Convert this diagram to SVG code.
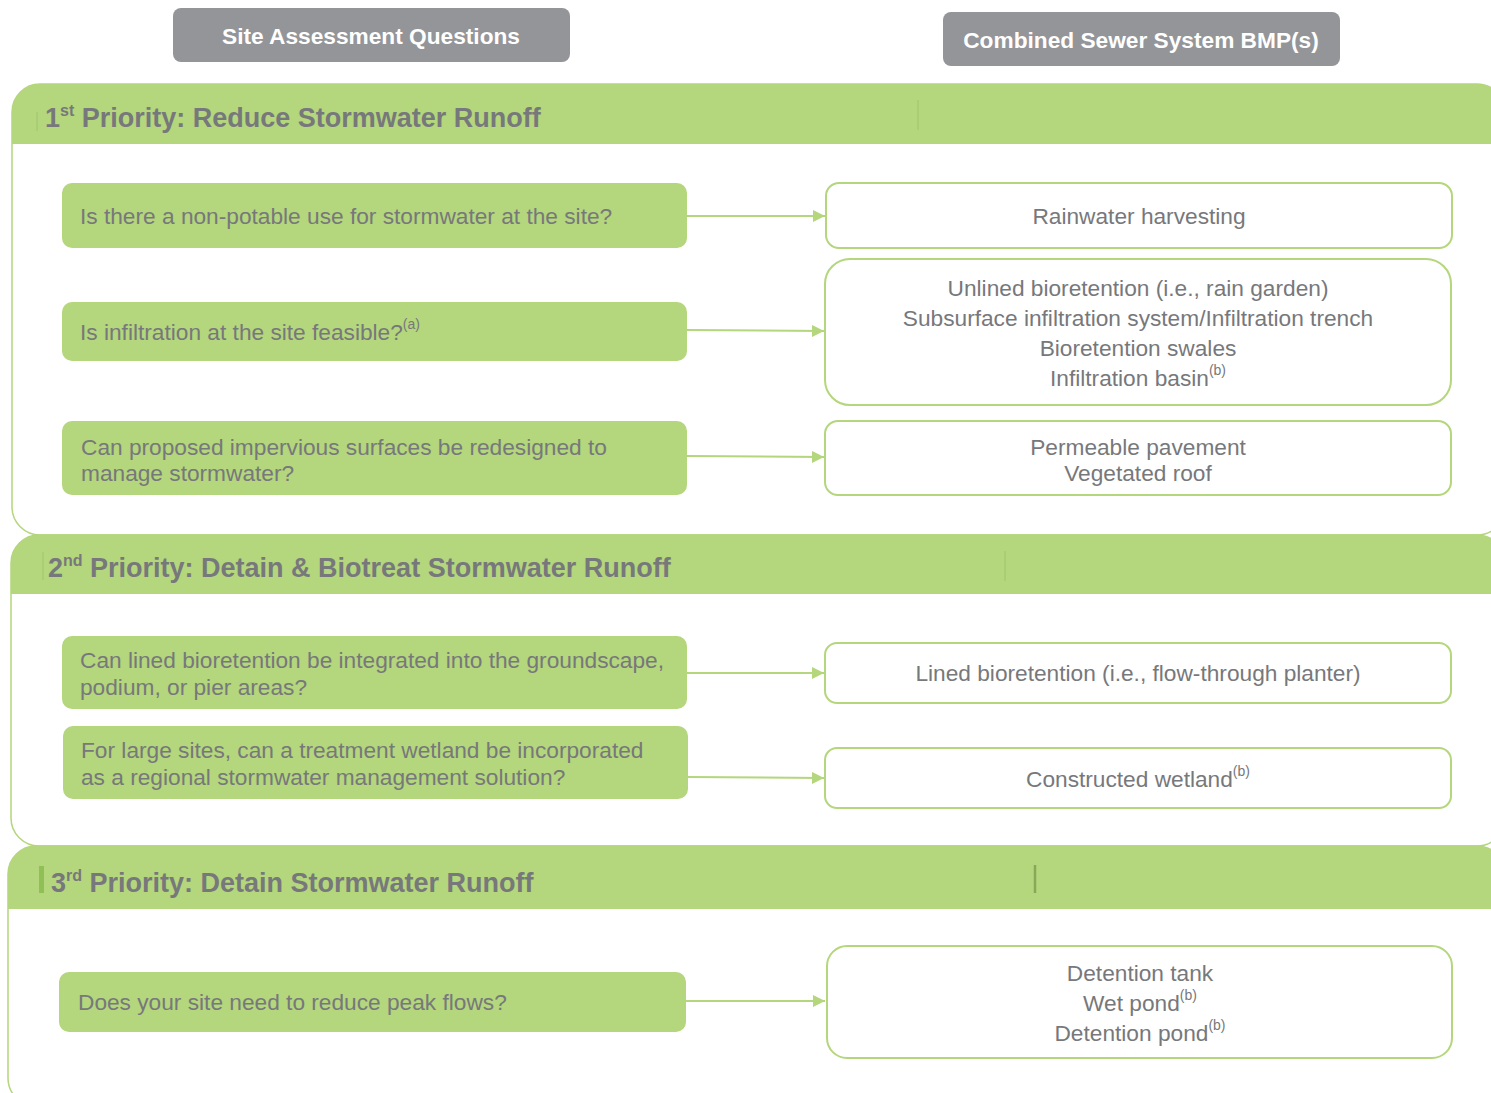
<svg xmlns="http://www.w3.org/2000/svg" width="1491" height="1093" viewBox="0 0 1491 1093">
<style>
.hdr{fill:#939598;}
.hdrt{font-family:"Liberation Sans",Arial,sans-serif;font-weight:bold;font-size:22.7px;fill:#ffffff;text-anchor:middle;}
.panel{fill:#ffffff;stroke:#B4D67C;stroke-width:1.5;}
.band{fill:#B4D67C;}
.title{font-family:"Liberation Sans",Arial,sans-serif;font-weight:bold;font-size:27px;fill:#77787B;}
.q{fill:#B4D67C;}
.qt{font-family:"Liberation Sans",Arial,sans-serif;font-size:22.7px;fill:#77787B;}
.a{fill:#ffffff;stroke:#B4D67C;stroke-width:2;}
.at{font-family:"Liberation Sans",Arial,sans-serif;font-size:22.7px;fill:#77787B;text-anchor:middle;}
.sep{stroke:#9CC264;stroke-width:0.8;}
.conn{stroke:#B4D67C;stroke-width:2;fill:none;marker-end:url(#ah);}
</style>
<defs>
<marker id="ah" markerWidth="12" markerHeight="12" refX="12" refY="6" orient="auto" markerUnits="userSpaceOnUse">
<path d="M0,0 L12,6 L0,12 Z" fill="#B4D67C"/>
</marker>
</defs>
<rect width="1491" height="1093" fill="#ffffff"/>

<g id="header-left">
<rect class="hdr" x="173" y="8" width="397" height="54" rx="8"/>
<text class="hdrt" x="371" y="44">Site Assessment Questions</text>
</g>
<g id="header-right">
<rect class="hdr" x="943" y="12" width="397" height="54" rx="8"/>
<text class="hdrt" x="1141" y="48">Combined Sewer System BMP(s)</text>
</g>

<g id="section1">
<rect class="panel" x="12" y="84" width="1493" height="451" rx="28"/>
<path class="band" d="M12,144 V112 A28,28 0 0 1 40,84 H1477 A28,28 0 0 1 1505,112 V144 Z"/>
<line class="sep" x1="37" y1="112" x2="37" y2="131"/>
<line class="sep" x1="918" y1="100" x2="918" y2="130"/>
<text class="title" x="45" y="127">1<tspan font-size="16" dy="-11">st</tspan><tspan dy="11"> Priority: Reduce Stormwater Runoff</tspan></text>
</g>

<g id="section2">
<rect class="panel" x="11" y="535" width="1494" height="311" rx="28"/>
<path class="band" d="M11,594 V563 A28,28 0 0 1 39,535 H1477 A28,28 0 0 1 1505,563 V594 Z"/>
<line class="sep" x1="43" y1="552" x2="43" y2="580"/>
<line class="sep" x1="1005" y1="551" x2="1005" y2="581"/>
<text class="title" x="48" y="577">2<tspan font-size="16" dy="-11">nd</tspan><tspan dy="11"> Priority: Detain &amp; Biotreat Stormwater Runoff</tspan></text>
</g>

<g id="section3">
<rect class="panel" x="8" y="846" width="1497" height="260" rx="28"/>
<path class="band" d="M8,909 V874 A28,28 0 0 1 36,846 H1477 A28,28 0 0 1 1505,874 V909 Z"/>
<rect x="39" y="866" width="5" height="27" fill="#8FBF55"/>
<line x1="1035" y1="865" x2="1035" y2="893" stroke="#86A858" stroke-width="2.5"/>
<text class="title" x="51" y="892">3<tspan font-size="16" dy="-11">rd</tspan><tspan dy="11"> Priority: Detain Stormwater Runoff</tspan></text>
</g>

<g id="q1">
<rect class="q" x="62" y="183" width="625" height="65" rx="10"/>
<text class="qt" x="80" y="224">Is there a non-potable use for stormwater at the site?</text>
</g>
<g id="q2">
<rect class="q" x="62" y="302" width="625" height="59" rx="10"/>
<text class="qt" x="80" y="340">Is infiltration at the site feasible?<tspan font-size="14" dy="-11">(a)</tspan></text>
</g>
<g id="q3">
<rect class="q" x="62" y="421" width="625" height="74" rx="10"/>
<text class="qt" x="81" y="455">Can proposed impervious surfaces be redesigned to</text>
<text class="qt" x="81" y="481">manage stormwater?</text>
</g>
<g id="q4">
<rect class="q" x="62" y="636" width="625" height="73" rx="10"/>
<text class="qt" x="80" y="668">Can lined bioretention be integrated into the groundscape,</text>
<text class="qt" x="80" y="695">podium, or pier areas?</text>
</g>
<g id="q5">
<rect class="q" x="63" y="726" width="625" height="73" rx="10"/>
<text class="qt" x="81" y="758">For large sites, can a treatment wetland be incorporated</text>
<text class="qt" x="81" y="785">as a regional stormwater management solution?</text>
</g>
<g id="q6">
<rect class="q" x="59" y="972" width="627" height="60" rx="10"/>
<text class="qt" x="78" y="1010">Does your site need to reduce peak flows?</text>
</g>

<g id="a1">
<rect class="a" x="826" y="183" width="626" height="65" rx="13"/>
<text class="at" x="1139" y="224">Rainwater harvesting</text>
</g>
<g id="a2">
<rect class="a" x="825" y="259" width="626" height="146" rx="25"/>
<text class="at" x="1138" y="296">Unlined bioretention (i.e., rain garden)</text>
<text class="at" x="1138" y="326">Subsurface infiltration system/Infiltration trench</text>
<text class="at" x="1138" y="356">Bioretention swales</text>
<text class="at" x="1138" y="386">Infiltration basin<tspan font-size="14" dy="-11">(b)</tspan></text>
</g>
<g id="a3">
<rect class="a" x="825" y="421" width="626" height="74" rx="13"/>
<text class="at" x="1138" y="455">Permeable pavement</text>
<text class="at" x="1138" y="481">Vegetated roof</text>
</g>
<g id="a4">
<rect class="a" x="825" y="643" width="626" height="60" rx="12"/>
<text class="at" x="1138" y="681">Lined bioretention (i.e., flow-through planter)</text>
</g>
<g id="a5">
<rect class="a" x="825" y="748" width="626" height="60" rx="12"/>
<text class="at" x="1138" y="787">Constructed wetland<tspan font-size="14" dy="-11">(b)</tspan></text>
</g>
<g id="a6">
<rect class="a" x="827" y="946" width="625" height="112" rx="20"/>
<text class="at" x="1140" y="981">Detention tank</text>
<text class="at" x="1140" y="1011">Wet pond<tspan font-size="14" dy="-11">(b)</tspan></text>
<text class="at" x="1140" y="1041">Detention pond<tspan font-size="14" dy="-11">(b)</tspan></text>
</g>

<g id="connectors">
<line class="conn" x1="687" y1="216" x2="825" y2="216"/>
<line class="conn" x1="687" y1="330" x2="824" y2="331"/>
<line class="conn" x1="687" y1="456" x2="824" y2="457"/>
<line class="conn" x1="687" y1="673" x2="824" y2="673"/>
<line class="conn" x1="688" y1="777" x2="824" y2="778"/>
<line class="conn" x1="686" y1="1001" x2="825" y2="1001"/>
</g>
</svg>
